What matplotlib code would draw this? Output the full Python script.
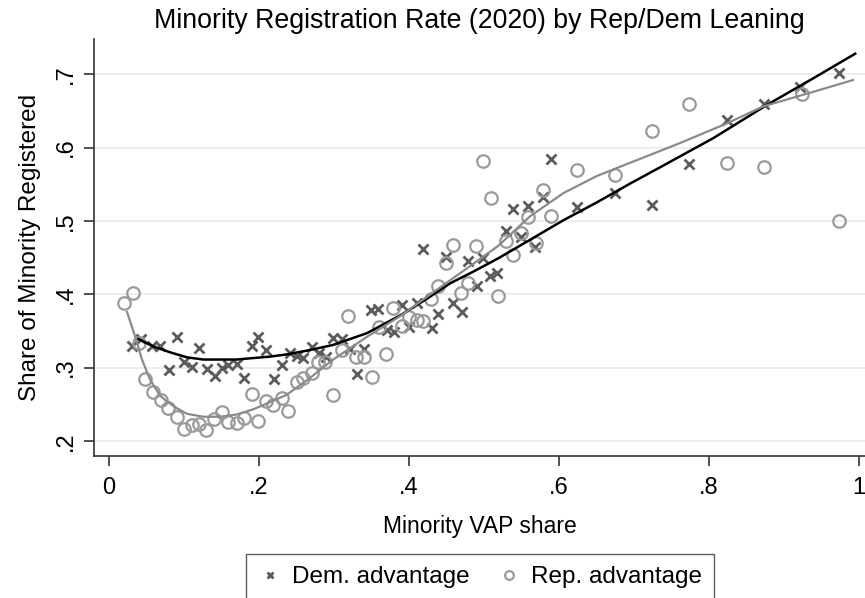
import numpy as np
import matplotlib
matplotlib.use("Agg")
from matplotlib import pyplot as plt

# binned minority registration rates
dem_x = [0.030, 0.042, 0.057, 0.068, 0.080, 0.090, 0.100, 0.110, 0.120, 0.131,
         0.141, 0.150, 0.159, 0.170, 0.180, 0.190, 0.199, 0.209, 0.220, 0.230,
         0.241, 0.250, 0.259, 0.270, 0.280, 0.289, 0.299, 0.310, 0.321, 0.330,
         0.340, 0.349, 0.359, 0.371, 0.380, 0.390, 0.400, 0.410, 0.419, 0.430,
         0.439, 0.449, 0.459, 0.470, 0.479, 0.490, 0.499, 0.508, 0.517, 0.529,
         0.539, 0.549, 0.559, 0.568, 0.579, 0.589, 0.624, 0.675, 0.724, 0.773,
         0.824, 0.873, 0.921, 0.973]
dem_y = [0.329, 0.339, 0.330, 0.330, 0.297, 0.342, 0.308, 0.301, 0.327, 0.298,
         0.288, 0.300, 0.303, 0.305, 0.286, 0.330, 0.342, 0.324, 0.285, 0.303,
         0.320, 0.316, 0.313, 0.328, 0.320, 0.315, 0.340, 0.339, 0.326, 0.291,
         0.326, 0.379, 0.380, 0.351, 0.348, 0.386, 0.355, 0.388, 0.462, 0.354,
         0.373, 0.451, 0.388, 0.376, 0.445, 0.411, 0.449, 0.425, 0.429, 0.486,
         0.516, 0.478, 0.521, 0.464, 0.532, 0.584, 0.519, 0.538, 0.522, 0.578,
         0.637, 0.660, 0.683, 0.701]

rep_x = [0.020, 0.032, 0.040, 0.048, 0.059, 0.069, 0.079, 0.090, 0.100, 0.110,
         0.120, 0.129, 0.140, 0.150, 0.159, 0.170, 0.180, 0.190, 0.199, 0.209,
         0.219, 0.230, 0.239, 0.250, 0.259, 0.270, 0.279, 0.288, 0.299, 0.310,
         0.319, 0.329, 0.340, 0.350, 0.360, 0.369, 0.379, 0.390, 0.400, 0.410,
         0.419, 0.429, 0.439, 0.449, 0.459, 0.469, 0.479, 0.489, 0.499, 0.509,
         0.519, 0.529, 0.539, 0.549, 0.559, 0.569, 0.579, 0.589, 0.624, 0.675,
         0.724, 0.773, 0.824, 0.873, 0.924, 0.973]
rep_y = [0.388, 0.402, 0.334, 0.285, 0.267, 0.256, 0.245, 0.232, 0.216, 0.222,
         0.223, 0.215, 0.230, 0.240, 0.226, 0.225, 0.231, 0.264, 0.227, 0.255,
         0.249, 0.259, 0.241, 0.280, 0.286, 0.292, 0.308, 0.308, 0.263, 0.324,
         0.371, 0.315, 0.315, 0.287, 0.356, 0.319, 0.381, 0.357, 0.369, 0.365,
         0.363, 0.393, 0.411, 0.442, 0.467, 0.402, 0.416, 0.466, 0.581, 0.531,
         0.398, 0.472, 0.454, 0.483, 0.505, 0.470, 0.542, 0.507, 0.570, 0.563,
         0.623, 0.660, 0.579, 0.574, 0.673, 0.500]

# smoothed fit lines
dem_fit_x = [0.039, 0.059, 0.081, 0.104, 0.126, 0.148, 0.170, 0.192, 0.215,
             0.237, 0.268, 0.299, 0.344, 0.388, 0.424, 0.455, 0.486, 0.519,
             0.561, 0.606, 0.650, 0.695, 0.740, 0.806, 0.877, 0.940, 0.995]
dem_fit_y = [0.339, 0.329, 0.321, 0.314, 0.311, 0.311, 0.311, 0.313, 0.315,
             0.318, 0.324, 0.331, 0.347, 0.371, 0.394, 0.415, 0.431, 0.449,
             0.474, 0.501, 0.525, 0.551, 0.576, 0.613, 0.658, 0.695, 0.728]

rep_fit_x = [0.024, 0.035, 0.044, 0.055, 0.068, 0.077, 0.090, 0.104, 0.126,
             0.148, 0.170, 0.192, 0.215, 0.237, 0.268, 0.299, 0.344, 0.388,
             0.430, 0.474, 0.519, 0.561, 0.606, 0.650, 0.672, 0.761, 0.824,
             0.872, 0.939, 0.992]
rep_fit_y = [0.376, 0.342, 0.311, 0.283, 0.262, 0.254, 0.245, 0.237, 0.233,
             0.233, 0.236, 0.243, 0.253, 0.263, 0.286, 0.311, 0.342, 0.370,
             0.401, 0.433, 0.466, 0.506, 0.538, 0.561, 0.570, 0.606, 0.633,
             0.656, 0.676, 0.692]

x_ticks = [0, 0.2, 0.4, 0.6, 0.8, 1]
x_labels = ["0", ".2", ".4", ".6", ".8", "1"]
y_ticks = [0.2, 0.3, 0.4, 0.5, 0.6, 0.7]
y_labels = [".2", ".3", ".4", ".5", ".6", ".7"]

plt.rcParams['font.family'] = ['Liberation Sans', 'DejaVu Sans']

fig = plt.figure(figsize=(8.65, 5.98), dpi=100)
ax = fig.add_axes([94 / 865, 1 - 456 / 598, 771 / 865, 417 / 598])

dem_col = "#5c5c5c"
rep_col = "#9a9a9a"

ax.plot(dem_x, dem_y, linestyle="none", marker="x", ms=6.5, mew=2,
        color=dem_col, label="Dem. advantage", zorder=3)
ax.plot(rep_x, rep_y, linestyle="none", marker="o", ms=9, mew=1.6,
        mfc="none", mec=rep_col, label="Rep. advantage", zorder=3)
ax.plot(dem_fit_x, dem_fit_y, color="black", lw=1.8, zorder=4)
ax.plot(rep_fit_x, rep_fit_y, color="#8a8a8a", lw=1.6, zorder=4)

ax.set_xlim(-0.02, 1.008)
ax.set_ylim(0.1795, 0.748)
ax.set_xticks(x_ticks)
ax.set_xticklabels(x_labels)
ax.set_yticks(y_ticks)
ax.set_yticklabels(y_labels, rotation=90, va="center")

ax.grid(axis="y", color="#ebebeb", lw=1.3)
ax.set_axisbelow(True)
for s in ["top", "right"]:
    ax.spines[s].set_visible(False)
for s in ["left", "bottom"]:
    ax.spines[s].set_color("#333333")
    ax.spines[s].set_linewidth(1.2)
ax.tick_params(axis="both", direction="out", length=7, width=1.2,
               color="#333333", labelsize=17)
ax.tick_params(axis="x", pad=8)
ax.tick_params(axis="y", pad=5)

ax.set_title("Minority Registration Rate (2020) by Rep/Dem Leaning",
             fontsize=19.3, pad=8)
ax.set_xlabel("Minority VAP share", fontsize=16.5, labelpad=12)
ax.set_ylabel("Share of Minority Registered", fontsize=17.5, labelpad=10)

# legend box runs off the bottom edge, as in the reference
leg = fig.legend(loc="upper center", bbox_to_anchor=(480 / 865, 1 - 554 / 598),
                 ncol=2, fontsize=17.5, frameon=True, fancybox=False,
                 markerscale=0.7, handletextpad=0.4, columnspacing=1.1,
                 borderpad=0.5, handlelength=1.0, borderaxespad=0)
leg.get_frame().set_edgecolor("#333333")
leg.get_frame().set_linewidth(1.0)

fig.savefig("out.png", dpi=100)
